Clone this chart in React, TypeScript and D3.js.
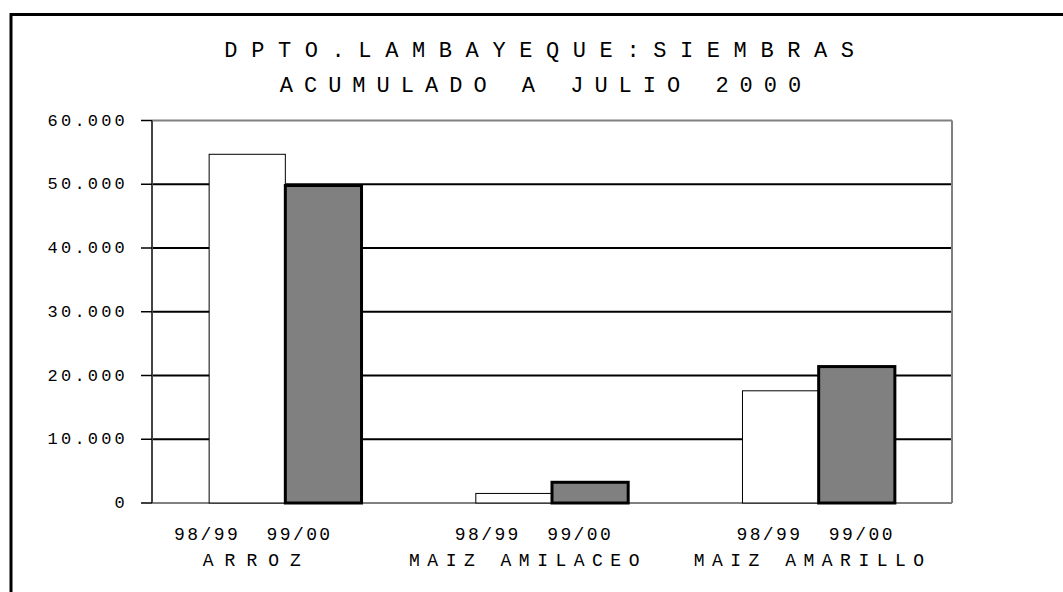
import * as d3 from 'd3';

const categories = ['ARROZ', 'MAIZ AMILACEO', 'MAIZ AMARILLO'];
const seasons = ['98/99', '99/00'];
const values9899 = [54700, 1500, 17600];
const values9900 = [49800, 3250, 21400];
const yTicks = [0, 10000, 20000, 30000, 40000, 50000, 60000];
const titleLines = ['DPTO.LAMBAYEQUE:SIEMBRAS', 'ACUMULADO A JULIO 2000'];

// excel placed the category labels a bit off-centre, nudge them
const seasonShift = [-33, -19, -4];
const nameShift = [-32, -28, -10];

const W = 1063;
const H = 592;
const plot = { left: 152, right: 952, top: 120.5, bottom: 503 };
const font = '"Liberation Mono", "DejaVu Sans Mono", monospace';

const es = d3.formatLocale({ decimal: ',', thousands: '.', grouping: [3], currency: ['', ''] });
const fmt = es.format(',d');

export default function App() {
  const x0 = d3.scaleBand<string>().domain(categories).range([plot.left, plot.right]);
  const x1 = d3.scaleBand<string>().domain(seasons).range([0, x0.bandwidth()]).paddingOuter(0.75);
  const y = d3.scaleLinear().domain([0, 60000]).range([plot.bottom, plot.top]);

  const rows = categories.map((c, i) => ({ cat: c, vals: [values9899[i], values9900[i]] }));

  return (
    <svg width={W} height={H} style={{ position: 'absolute', left: 0, top: 0, background: '#fff' }}>
      <rect x={11} y={14.5} width={W + 20} height={H + 20} fill="#fff" stroke="#000" strokeWidth={3} />

      {titleLines.map((t, i) => (
        <text
          key={t}
          x={540 + 6}
          y={57 + i * 35}
          textAnchor="middle"
          fontFamily={font}
          fontSize={22}
          letterSpacing={i === 0 ? 13.6 : 11}
          fill="#000"
        >
          {t}
        </text>
      ))}

      {/* gridlines */}
      {yTicks.filter((t) => t > 0 && t < 60000).map((t) => (
        <line key={t} x1={plot.left} x2={plot.right} y1={y(t)} y2={y(t)} stroke="#000" strokeWidth={2} />
      ))}

      {/* plot frame */}
      <line x1={plot.left} x2={plot.right} y1={y(60000)} y2={y(60000)} stroke="#808080" strokeWidth={2} />
      <line x1={plot.right} x2={plot.right} y1={plot.top} y2={plot.bottom} stroke="#808080" strokeWidth={2} />
      <line x1={plot.left} x2={plot.right} y1={plot.bottom} y2={plot.bottom} stroke="#808080" strokeWidth={2} />

      {/* bars */}
      {rows.map((r) => (
        <g key={r.cat} transform={`translate(${x0(r.cat)},0)`}>
          <rect
            x={x1(seasons[0])}
            y={y(r.vals[0])}
            width={x1.bandwidth()}
            height={y(0) - y(r.vals[0])}
            fill="#fff"
            stroke="#000"
            strokeWidth={1}
          />
          <rect
            x={x1(seasons[1])}
            y={y(r.vals[1])}
            width={x1.bandwidth()}
            height={y(0) - y(r.vals[1])}
            fill="#808080"
            stroke="#000"
            strokeWidth={3}
          />
        </g>
      ))}

      {/* y axis */}
      <line x1={plot.left} x2={plot.left} y1={plot.top} y2={plot.bottom} stroke="#444" strokeWidth={2} />
      {yTicks.map((t) => (
        <g key={t}>
          <line x1={plot.left - 11} x2={plot.left} y1={y(t)} y2={y(t)} stroke="#000" strokeWidth={1.5} />
          <text
            x={128}
            y={y(t) + 5}
            textAnchor="end"
            fontFamily={font}
            fontSize={17}
            letterSpacing={3.2}
            fill="#000"
          >
            {fmt(t)}
          </text>
        </g>
      ))}

      {/* category labels */}
      {categories.map((c, i) => {
        const cx = (x0(c) as number) + x0.bandwidth() / 2;
        return (
          <g key={c}>
            <text
              x={cx + seasonShift[i] + 1}
              y={540}
              textAnchor="middle"
              fontFamily={font}
              fontSize={18}
              letterSpacing={2.4}
              fill="#000"
              style={{ whiteSpace: 'pre' }}
            >
              {seasons.join('  ')}
            </text>
            <text
              x={cx + nameShift[i] + 4}
              y={566}
              textAnchor="middle"
              fontFamily={font}
              fontSize={18}
              letterSpacing={i === 0 ? 11 : 7.5}
              fill="#000"
            >
              {c}
            </text>
          </g>
        );
      })}
    </svg>
  );
}
